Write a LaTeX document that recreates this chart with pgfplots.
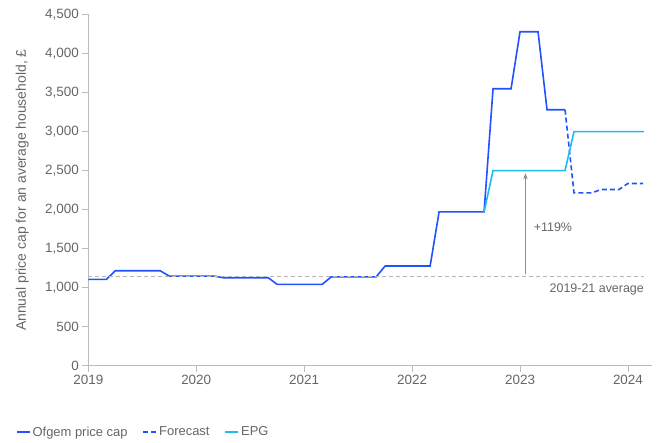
\documentclass[border=0pt]{standalone}
\usepackage{fontspec}
\setmainfont{Liberation Sans}
\usepackage{pgfplots}
\pgfplotsset{compat=1.18}
\usetikzlibrary{arrows.meta}
\definecolor{ofgem}{HTML}{2251FF}
\definecolor{epg}{HTML}{1EBBF0}
\definecolor{txt}{HTML}{666666}
\definecolor{axc}{HTML}{BBBBBB}
\definecolor{avgc}{HTML}{B5B5B5}
\begin{document}
\begin{tikzpicture}
\useasboundingbox (-88.3bp,-77.3bp) rectangle (573.7bp,365.7bp);
\begin{axis}[
  at={(0,0)}, anchor=south west,
  scale only axis, width=563.4bp, height=351.2bp,
  xmin=2019, xmax=2024.22, ymin=0, ymax=4500,
  axis x line*=bottom, axis y line*=left,
  axis line style={axc, line width=0.8pt, -},
  xtick={2019,2020,2021,2022,2023,2024},
  xticklabels={2019,2020,2021,2022,2023,2024},
  ytick={0,500,1000,1500,2000,2500,3000,3500,4000,4500},
  /pgf/number format/1000 sep={,},
  /pgf/number format/assume math mode=true,
  tick align=outside, major tick length=6bp,
  tick style={axc, line width=0.8pt},
  ticklabel style={font=\fontsize{13.5}{15}\selectfont, text=txt},
  ylabel={Annual price cap for an average household, £},
  ylabel style={at={(axis description cs:-0.117,0.5)}, anchor=center, font=\fontsize{14}{16}\selectfont, text=txt},
  clip=false,
  legend style={at={(axis description cs:-0.134,-0.189)}, anchor=west, draw=none, fill=none,
    font=\fontsize{13}{15}\selectfont, text=txt, legend columns=-1,
    /tikz/every even column/.append style={column sep=13bp}},
  legend image code/.code={\draw[#1] (0bp,0bp) -- (13bp,0bp);},
]
\addplot[ofgem, line width=1.6bp] coordinates {
 (2019.0,1106) (2019.167,1106) (2019.25,1216) (2019.667,1216) (2019.75,1148)
 (2020.167,1148) (2020.25,1127) (2020.667,1127) (2020.75,1042) (2021.167,1042)
 (2021.25,1138) (2021.667,1138) (2021.75,1277) (2022.167,1277) (2022.25,1971)
 (2022.667,1971) (2022.75,3549) (2022.917,3549) (2023.0,4279) (2023.167,4279)
 (2023.25,3280) (2023.417,3280)};
\addlegendentry{Ofgem price cap}
\addplot[ofgem, line width=1.6bp, dash pattern=on 5bp off 3bp] coordinates {
 (2023.417,3280) (2023.5,2215) (2023.667,2215) (2023.75,2258) (2023.917,2258)
 (2024.0,2335) (2024.14,2335)};
\addlegendentry{Forecast}
\addplot[epg, line width=1.6bp] coordinates {
 (2022.667,1971) (2022.75,2500) (2023.417,2500) (2023.5,3000) (2024.15,3000)};
\addlegendentry{EPG}
\addplot[avgc, line width=1bp, dash pattern=on 4bp off 3bp, forget plot] coordinates {
 (2019.0,1139) (2024.15,1139)};
\draw[-{Stealth[length=6bp,width=4.5bp]}, draw=gray!90, fill=gray!90, line width=0.8bp]
  (axis cs:2023.05,1170) -- (axis cs:2023.05,2465);
\node[anchor=west, text=txt, font=\fontsize{12.5}{14}\selectfont] at (axis cs:2023.095,1780) {+119\%};
\node[anchor=east, text=txt, font=\fontsize{12.5}{14}\selectfont] at (axis cs:2024.18,978) {2019-21 average};
\end{axis}
\end{tikzpicture}
\end{document}
